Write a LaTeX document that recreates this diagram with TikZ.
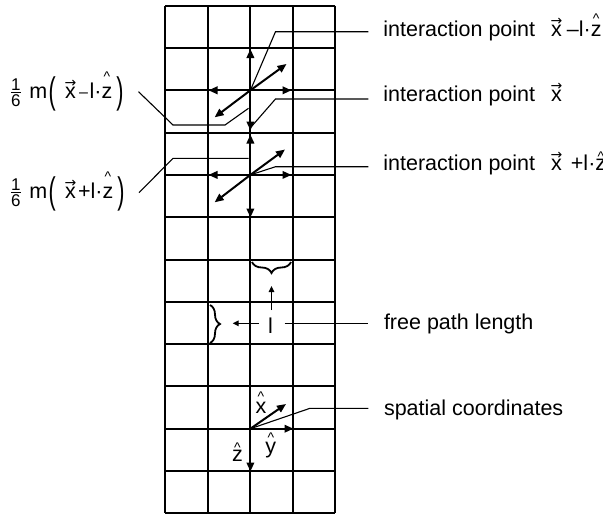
\documentclass[tikz,border=0pt]{standalone}
\usepackage{fontspec}
\usepackage{graphicx}
\setmainfont{Liberation Sans}
\newfontfamily\djv{DejaVu Sans}
\usetikzlibrary{arrows.meta,decorations.pathreplacing}

\newcommand{\accover}[3]{\leavevmode\setbox0=\hbox{#3}\hbox to \wd0{\hss\raisebox{#1}[0pt][0pt]{#2}\hss}\kern-\wd0\box0}
\newcommand{\hatglyph}{{\fontsize{14}{14}\selectfont\char"5E}}
\newcommand{\arrglyph}{{\fontsize{14}{14}\selectfont\djv\char"2192}}
\newcommand{\vx}{\accover{11pt}{\arrglyph}{x}}
\newcommand{\hz}[1]{\accover{#1}{\hatglyph}{z}}
\newcommand{\sdash}{\raisebox{1pt}{\fontsize{16}{16}\selectfont –}}
\newcommand{\sixth}{\raisebox{-8.4pt}{\fontsize{17}{17}\selectfont\vbox{\offinterlineskip\halign{\hfil##\hfil\cr 1\cr\noalign{\kern1.75pt\hrule height 1pt\kern1.75pt}6\cr}}}}
\newcommand{\bigpar}[1]{\raisebox{-5.6pt}{\scalebox{1}[1.72]{#1}}}

\begin{document}
\begin{tikzpicture}[x=1pt,y=-1pt,
  gridline/.style={line width=2pt,line cap=square},
  arr/.style={line width=2pt,-{Triangle[length=9pt,width=7.5pt]}},
  thinarr/.style={line width=1.4pt,-{Triangle[length=6pt,width=5.5pt]}},
  leader/.style={line width=1.1pt},
  lbl/.style={anchor=base west,inner sep=0pt,font=\fontsize{21.5}{24}\selectfont},
  sym/.style={anchor=base,inner sep=0pt,font=\fontsize{21.5}{24}\selectfont},
  hbrace/.style={line width=1.8pt,decorate,decoration={brace,mirror,amplitude=11pt}},
  vbrace/.style={line width=1.8pt,decorate,decoration={brace,amplitude=10pt}}
]
\useasboundingbox (0,0) rectangle (603,515);
\fill[white] (0,0) rectangle (603,515);

% grid
\foreach \i in {0,...,4} \draw[gridline] ({165.4+42.5*\i},5.7) -- ({165.4+42.5*\i},513.3);
\foreach \j in {0,...,12} \draw[gridline] (165.4,{5.7+42.3*\j}) -- (335.4,{5.7+42.3*\j});

% key points
\coordinate (S1) at (250.4,90.3);
\coordinate (X) at (250.4,132.6);
\coordinate (S2) at (250.4,174.9);
\coordinate (O) at (250.4,428.7);

% tips upper star
\coordinate (S1u) at (250.4,49);
\coordinate (S1l) at (208.5,90.3);
\coordinate (S1r) at (291.5,90.3);
\coordinate (S1ne) at (286.5,64);
\coordinate (S1sw) at (214.6,117.3);
\coordinate (S1d) at (250.4,130.5);
% tips lower star
\coordinate (S2u) at (250.4,134.5);
\coordinate (S2l) at (208.5,174.9);
\coordinate (S2r) at (291.5,174.9);
\coordinate (S2ne) at (285,149.5);
\coordinate (S2sw) at (214.6,202.3);
\coordinate (S2d) at (250.4,217.5);
% tips coordinates
\coordinate (On) at (286,404);
\coordinate (Or) at (293.5,428.7);
\coordinate (Od) at (250.4,471.5);

\foreach \t in {S1u,S1l,S1r,S1ne,S1sw,S1d} \draw[arr] (S1) -- (\t);
\foreach \t in {S2u,S2l,S2r,S2ne,S2sw,S2d} \draw[arr] (S2) -- (\t);
\foreach \t in {On,Or,Od} \draw[arr] (O) -- (\t);

% right labels
\node[lbl] (t1) at (383.2,36.7) {interaction point\hspace{16pt}\vx\hspace{5pt}–l·\hz{13.6pt}};
\node[lbl] (t2) at (383.2,101.7) {interaction point\hspace{16pt}\vx};
\node[lbl] (t3) at (383.2,170.7) {interaction point\hspace{16pt}\vx\hspace{9pt}+l·\hz{9.3pt}};
\node[lbl] (t4) at (383.8,329) {free path length};
\node[lbl] (t5) at (383.8,415) {spatial coordinates};

% left labels
\node[lbl] (m1) at (11,98.3) {\sixth\hspace{8.8pt}m\hspace{1.3pt}\bigpar{(}\hspace{9.3pt}\vx\hspace{3.3pt}\sdash\hspace{1.5pt}l·\hz{16.9pt}\hspace{4pt}\bigpar{)}};
\node[lbl] (m2) at (11,198.3) {\sixth\hspace{8.8pt}m\hspace{1.3pt}\bigpar{(}\hspace{9.3pt}\vx\hspace{2.2pt}+l·\hz{16.9pt}\hspace{4pt}\bigpar{)}};

% leaders right
\coordinate (R1a) at (368.3,31.7);
\coordinate (R1b) at (275.5,31.7);
\coordinate (R2a) at (368.3,99);
\coordinate (R2b) at (275.5,99);
\coordinate (R2c) at (251.5,126.5);
\coordinate (R3a) at (368.3,166.7);
\coordinate (R3b) at (275.5,166.7);
\draw[leader] (R1a) -- (R1b) -- (S1);
\draw[leader] (R2a) -- (R2b) -- (R2c);
\draw[leader] (R3a) -- (R3b) -- (S2);

% leaders left
\coordinate (L1a) at (138.5,91.7);
\coordinate (L1b) at (173,125);
\coordinate (L1c) at (225,125);
\coordinate (L1d) at (248.5,108.3);
\coordinate (L2a) at (139,192.7);
\coordinate (L2b) at (173,158.3);
\coordinate (L2c) at (248.5,158.3);
\draw[leader] (L1a) -- (L1b) -- (L1c) -- (L1d);
\draw[leader] (L2a) -- (L2b) -- (L2c);

% free path length
\node[sym] (ell) at (270.4,333.3) {l};
\coordinate (FPa) at (284.6,323.3);
\coordinate (FPb) at (368.3,323.3);
\draw[leader] (FPa) -- (FPb);
\coordinate (Ua) at (271.5,310);
\coordinate (Ub) at (271.5,286);
\coordinate (La) at (258.5,323.3);
\coordinate (Lb) at (232.7,323.3);
\draw[thinarr] (Ua) -- (Ub);
\draw[thinarr] (La) -- (Lb);
\coordinate (HB1) at (252,262);
\coordinate (HB2) at (291,262);
\draw[hbrace] (HB1) -- (HB2);
\coordinate (VB1) at (210,305);
\coordinate (VB2) at (210,343);
\draw[vbrace] (VB1) -- (VB2);

% spatial coordinates
\node[sym] (xh) at (261,413) {\accover{11.5pt}{\hatglyph}{x}};
\node[sym] (yh) at (270.8,453) {\accover{10.3pt}{\hatglyph}{y}};
\node[sym] (zh) at (237.5,461.7) {\accover{9pt}{\hatglyph}{z}};
\coordinate (SCa) at (368.3,408.3);
\coordinate (SCb) at (310,408.3);
\draw[leader] (SCa) -- (SCb) -- (O);
\end{tikzpicture}
\end{document}
